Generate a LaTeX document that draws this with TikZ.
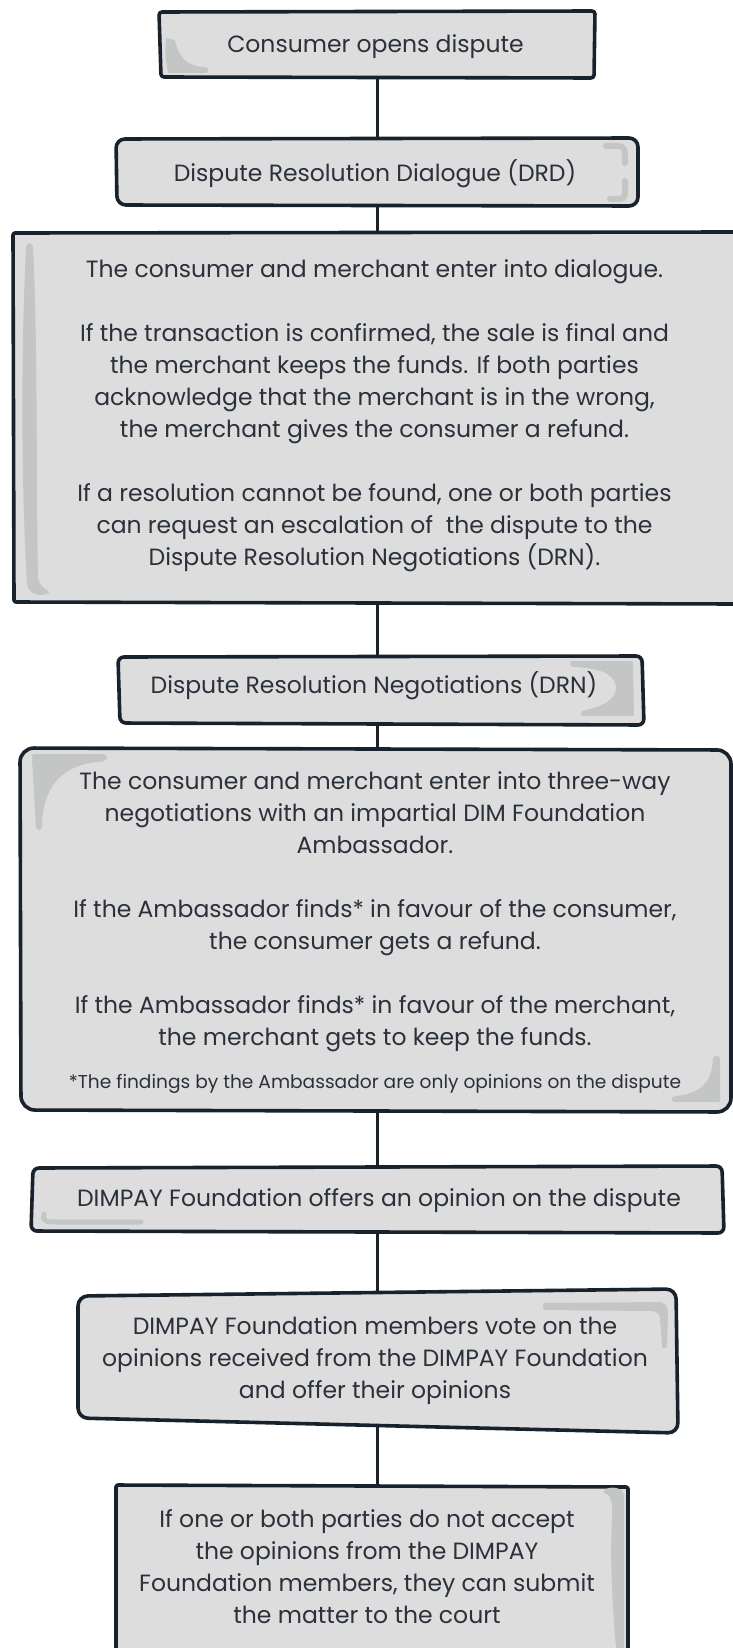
\documentclass[tikz,border=0pt]{standalone}
\usepackage{fontspec}
\setmainfont{Poppins}
\definecolor{edge}{HTML}{18222D}
\definecolor{boxfill}{HTML}{DDDDDD}
\definecolor{brushc}{HTML}{C4C6C5}
\definecolor{ink}{HTML}{2B313A}
\begin{document}
\begin{tikzpicture}[x=1pt,y=-1pt,
  hold/.style={inner sep=0pt, draw=none},
  boxline/.style={draw=edge, fill=boxfill, line width=3.6pt, line join=round},
  brush/.style={draw=brushc, line width=6pt, line cap=round, line join=round},
  blob/.style={fill=brushc},
  txt/.style={text=ink, align=center, inner sep=0pt, font=\fontsize{23.5}{32}\selectfont},
  note/.style={text=ink, align=center, inner sep=0pt, font=\fontsize{18.6}{22}\selectfont},
  link/.style={draw=edge, line width=3pt}]
\useasboundingbox (0,0) rectangle (733,1648);
\fill[white] (0,0) rectangle (733,1648);
\coordinate (spine) at (377,0);
% anchor nodes of the boxes
\node[hold, minimum width=435pt, minimum height=67pt] (b1) at (377.5,44.5) {};
\node[hold, minimum width=522pt, minimum height=68pt] (b2) at (377,172) {};
\node[hold, minimum width=722pt, minimum height=371pt] (b3) at (374,417.5) {};
\node[hold, minimum width=527pt, minimum height=69pt] (b4) at (381.5,690.5) {};
\node[hold, minimum width=712pt, minimum height=364pt] (b5) at (375,930) {};
\node[hold, minimum width=692pt, minimum height=65pt] (b6) at (378,1199.5) {};
\node[hold, minimum width=601pt, minimum height=140pt] (b7) at (377.5,1361) {};
\node[hold, minimum width=513pt, minimum height=175pt] (b8) at (372.5,1572) {};
% connectors
\draw[link] (b1.center -| spine) -- (b2.center -| spine);
\draw[link] (b2.center -| spine) -- (b3.center -| spine);
\draw[link] (b3.center -| spine) -- (b4.center -| spine);
\draw[link] (b4.center -| spine) -- (b5.center -| spine);
\draw[link] (b5.center -| spine) -- (b6.center -| spine);
\draw[link] (b6.center -| spine) -- (b7.center -| spine);
\draw[link] (b7.center -| spine) -- (b8.center -| spine);
% hand-drawn outlines
\path[boxline, rounded corners=3pt] (159,12) -- (595,11) -- (594,78) -- (161,77) -- cycle;
\path[boxline, rounded corners=9pt] (116,139) -- (638,138) -- (638,206) -- (117,205) -- cycle;
\path[boxline, rounded corners=2pt] (13,233) -- (737,232) -- (737,604) -- (14,602) -- cycle;
\path[boxline, rounded corners=6pt] (118,657) -- (642,656) -- (644,725) -- (120,723) -- cycle;
\path[boxline, rounded corners=14pt] (20,748) -- (731,750) -- (731,1112) -- (21,1110) -- cycle;
\path[boxline, rounded corners=6pt] (33,1168) -- (722,1166) -- (724,1233) -- (31,1231) -- cycle;
\path[boxline, rounded corners=10pt] (78,1296) -- (676,1289) -- (678,1433) -- (78,1418) -- cycle;
\path[boxline, rounded corners=2pt] (116,1485) -- (628,1487) -- (628,1665) -- (116,1665) -- cycle;
% brush strokes
\path[blob] (166,38) .. controls (165,55) .. (168,73) -- (206,73)
  .. controls (210,71) and (209,67) .. (204,67) .. controls (186,66) and (178,56) .. (175,40) -- cycle;
\draw[brush] (606,146) -- (618,146) .. controls (623,146) and (625,149) .. (625,155) -- (625,163);
\draw[brush] (625,181) -- (625,194) .. controls (625,198) and (622,199) .. (618,199) -- (610,199);
\path[blob] (26,247) .. controls (21,350) and (21,480) .. (27,584) .. controls (29,595) and (40,597) .. (49,593)
  .. controls (50,590) and (40,589) .. (38,578) .. controls (36,480) and (38,350) .. (33,247)
  .. controls (32,242) and (27,242) .. (26,247) -- cycle;
\path[blob] (572,661) -- (630,661) .. controls (633,661) .. (633,666) -- (634,713)
  .. controls (634,716) .. (630,716) -- (584,716) .. controls (578,716) and (580,711) .. (586,710)
  .. controls (610,705) and (617,695) .. (616,686) .. controls (614,674) and (600,668) .. (574,667)
  .. controls (569,666) and (569,661) .. (572,661) -- cycle;
\path[blob] (33,754) -- (104,754) .. controls (109,756) and (108,761) .. (100,762)
  .. controls (60,764) and (42,790) .. (42,827) .. controls (42,831) and (36,831) .. (36,827)
  -- (32,760) .. controls (32,756) .. (33,754) -- cycle;
\path[blob] (713,1058) .. controls (714,1055) and (720,1055) .. (720,1059) -- (720,1099)
  .. controls (720,1102) .. (716,1102) -- (675,1102) .. controls (670,1102) and (670,1097) .. (676,1096)
  .. controls (704,1093) and (712,1080) .. (713,1058) -- cycle;
\draw[brush, line width=5pt] (44,1214) .. controls (42,1221) and (46,1222) .. (56,1222) -- (141,1222);
\path[blob] (545,1303) -- (658,1302) .. controls (665,1302) and (668,1306) .. (668,1314)
  -- (667,1346) .. controls (666,1349) and (662,1349) .. (662,1346) -- (660,1318)
  .. controls (659,1313) and (656,1311) .. (650,1311) -- (545,1310) .. controls (542,1309) and (542,1304) .. (545,1303) -- cycle;
\path[blob] (604,1490) .. controls (610,1486) and (622,1487) .. (624,1494) -- (624,1648) -- (616,1648)
  .. controls (612,1600) and (610,1560) .. (612,1520) .. controls (613,1500) and (610,1494) .. (604,1493) -- cycle;
% texts
\node[txt] (t1) at (375.5,47) {Consumer opens dispute};
\node[txt] (t2) at (375,174) {Dispute Resolution Dialogue (DRD)};
\node[txt] (t3) at (374.5,416) {The consumer and merchant enter into dialogue.\\[32pt]
If the transaction is confirmed, the sale is final and\\
the merchant keeps the funds. If both parties\\
acknowledge that the merchant is in the wrong,\\
the merchant gives the consumer a refund.\\[32pt]
If a resolution cannot be found, one or both parties\\
can request an escalation of\ \ the dispute to the\\
Dispute Resolution Negotiations (DRN).};
\node[txt] (t4) at (374,686) {Dispute Resolution Negotiations (DRN)};
\node[txt] (t5) at (375,912) {The consumer and merchant enter into three-way\\
negotiations with an impartial DIM Foundation\\
Ambassador.\\[32pt]
If the Ambassador finds* in favour of the consumer,\\
the consumer gets a refund.\\[32pt]
If the Ambassador finds* in favour of the merchant,\\
the merchant gets to keep the funds.};
\node[note] (t5n) at (375,1084) {*The findings by the Ambassador are only opinions on the dispute};
\node[txt] (t6) at (379,1201) {DIMPAY Foundation offers an opinion on the dispute};
\node[txt] (t7) at (375,1361) {DIMPAY Foundation members vote on the\\
opinions received from the DIMPAY Foundation\\
and offer their opinions};
\node[txt] (t8) at (367,1567) {If one or both parties do not accept\\
the opinions from the DIMPAY\\
Foundation members, they can submit\\
the matter to the court};
\end{tikzpicture}
\end{document}
